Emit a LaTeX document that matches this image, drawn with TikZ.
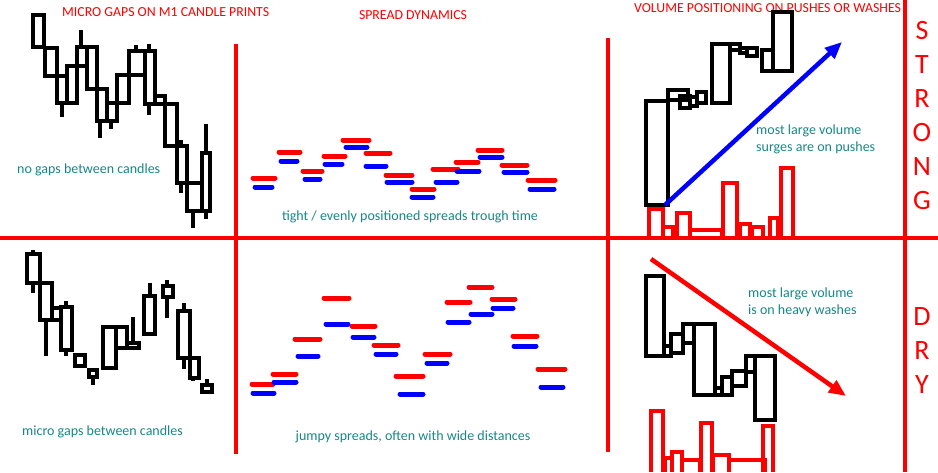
\documentclass[tikz,border=0pt]{standalone}
\usepackage{fontspec}
\setmainfont{Carlito}
\usetikzlibrary{arrows.meta}
\definecolor{capteal}{RGB}{24,134,134}
\tikzset{
  candle/.style={draw=black, line width=3.2pt},
  wick/.style={draw=black, line width=4.5pt},
  askbar/.style={draw=red, line width=5pt, line cap=round},
  bidbar/.style={draw=blue, line width=5pt, line cap=round},
  volbar/.style={draw=red, line width=3.8pt},
  divider/.style={draw=red, line width=3.5pt},
  heading/.style={text=red, font=\fontsize{13.8}{16}\selectfont, inner sep=0pt},
  caption/.style={text=capteal, font=\fontsize{14}{17}\selectfont, inner sep=0pt, align=left},
  sidelabel/.style={text=red, font=\fontsize{28}{30}\selectfont, inner sep=0pt}
}
\begin{document}
\begin{tikzpicture}[x=1pt, y=-1pt]
\useasboundingbox (0,0) rectangle (938,472);
% frame of the four panels
\draw[divider] (0,238) -- (938,238);
\draw[divider] (236,44) -- (236,454);
\draw[divider] (608,38) -- (608,452);
\draw[divider] (905,0) -- (905,472);
% headings
\node[heading, anchor=west] (hcandles) at (62,12) {MICRO GAPS ON M1 CANDLE PRINTS};
\node[heading] (hspread) at (413,15) {SPREAD DYNAMICS};
\node[heading, anchor=west] (hvolume) at (634,8) {VOLUME POSITIONING ON PUSHES OR WASHES};
\foreach \l [count=\i] in {S,T,R,O,N,G}
  \node[sidelabel] (strong\i) at (922,{31+34*(\i-1)}) {\l};
\foreach \l [count=\i] in {D,R,Y}
  \node[sidelabel] (dry\i) at (922,{317+34*(\i-1)}) {\l};
% candles without gaps
\foreach \xa/\ya/\xb/\yb in {33/15/44/47, 45/48/57/76, 57/76/67/103, 67/66/77/103,
  77/47/87/66, 87/47/97/89, 97/89/107/121, 107/103/117/121, 117/75/129/103,
  129/51/145/75, 145/51/155/104, 155/96/165/104, 165/104/177/146,
  177/146/187/183, 187/183/202/211, 202/153/210/211}
  \draw[candle] (\xa,\ya) rectangle (\xb,\yb);
\foreach \x/\ya/\yb in {62/103/117, 81/30/47, 100/121/138, 111/121/129, 136/45/51,
  149/44/51, 149/104/115, 181/140/146, 181/183/193, 193/211/228, 206/124/153, 206/211/219}
  \draw[wick] (\x,\ya) -- (\x,\yb);
\node[caption, anchor=west] (nogaps) at (17,170) {no gaps between candles};
% candles with micro gaps
\foreach \xa/\ya/\xb/\yb in {27/254/40/283, 40/283/52/320, 52/308/61/320, 61/307/72/350,
  75/355/85/366, 89/370/97/377, 103/327/116/368, 116/327/127/348, 127/343/139/348,
  144/296/155/334, 163/286/173/297, 178/311/190/358, 190/358/199/378, 202/385/212/392}
  \draw[candle] (\xa,\ya) rectangle (\xb,\yb);
\foreach \x/\ya/\yb in {33/250/254, 33/283/293, 46/320/356, 66/301/307, 66/350/356,
  93/377/385, 133/317/343, 150/283/296, 167/280/286, 167/297/318, 184/303/311,
  184/358/369, 193/378/381, 207/379/385}
  \draw[wick] (\x,\ya) -- (\x,\yb);
\node[caption, anchor=west] (microgaps) at (22,432) {micro gaps between candles};
% tight spreads
\foreach \xa/\xb/\y in {253/275/178, 279/300/152, 303/322/171, 324/345/156, 343/369/140,
  366/390/153, 386/412/175, 412/434/189, 433/458/169, 456/478/162, 478/502/150,
  502/527/165, 528/555/180}
  \draw[askbar] (\xa,\y) -- (\xb,\y);
\foreach \xa/\xb/\y in {255/272/187, 281/297/161, 305/320/179, 325/342/164, 346/367/147,
  366/386/166, 387/412/182, 412/433/197, 436/457/182, 457/479/171, 480/502/157,
  504/527/172, 530/554/189}
  \draw[bidbar] (\xa,\y) -- (\xb,\y);
\node[caption] (tight) at (410,217) {tight / evenly positioned spreads trough time};
% jumpy spreads
\foreach \xa/\xb/\y in {252/273/384, 273/296/374, 295/320/339, 324/349/298, 352/375/326,
  374/398/345, 396/423/376, 425/450/354, 447/470/302, 469/492/287, 492/515/299,
  513/537/336, 538/565/369}
  \draw[askbar] (\xa,\y) -- (\xb,\y);
\foreach \xa/\xb/\y in {253/274/393, 274/296/382, 298/318/356, 326/348/324, 353/374/337,
  376/396/354, 400/423/394, 427/447/363, 448/469/322, 471/492/314, 493/513/308,
  514/536/346, 541/563/387}
  \draw[bidbar] (\xa,\y) -- (\xb,\y);
\node[caption] (jumpy) at (413,437) {jumpy spreads, often with wide distances};
% volume on pushes
\foreach \xa/\ya/\xb/\yb in {646/101/668/205, 668/90/688/100, 680/96/690/108,
  690/97/697/106, 697/92/706/103, 712/44/730/103, 730/44/740/50, 740/48/747/53,
  747/48/757/56, 762/50/773/71, 773/12/792/71}
  \draw[candle] (\xa,\ya) rectangle (\xb,\yb);
\foreach \xa/\xb/\y in {649/663/209, 663/673/227, 677/690/213, 690/722/230, 723/737/183,
  740/750/224, 752/763/227, 770/778/218, 781/793/168}
  \draw[volbar] (\xa,238) -- (\xa,\y) -- (\xb,\y) -- (\xb,238);
\coordinate (pushstart) at (665,205);
\coordinate (pushend) at (842,42);
\draw[blue, line width=4.5pt, -{Triangle[length=17pt, width=14pt]}] (pushstart) -- (pushend);
\node[caption, anchor=north west] (pushes) at (756,125) {most large volume\\surges are on pushes};
% volume on washes
\foreach \xa/\ya/\xb/\yb in {646/276/664/356, 664/346/671/356, 671/334/683/353,
  683/324/694/343, 694/324/715/395, 715/388/722/395, 722/377/732/395,
  732/371/746/386, 746/356/755/372, 755/356/775/420}
  \draw[candle] (\xa,\ya) rectangle (\xb,\yb);
\foreach \xa/\xb/\y in {651/663/411, 665/672/458, 672/682/452, 682/700/460, 701/712/423,
  713/729/455, 729/765/460, 763/773/426}
  \draw[volbar] (\xa,472) -- (\xa,\y) -- (\xb,\y) -- (\xb,472);
\coordinate (washstart) at (651,259);
\coordinate (washend) at (846,396);
\draw[red, line width=4.5pt, -{Triangle[length=17pt, width=14pt]}] (washstart) -- (washend);
\node[caption, anchor=north west] (washes) at (748,288) {most large volume\\is on heavy washes};
\end{tikzpicture}
\end{document}
